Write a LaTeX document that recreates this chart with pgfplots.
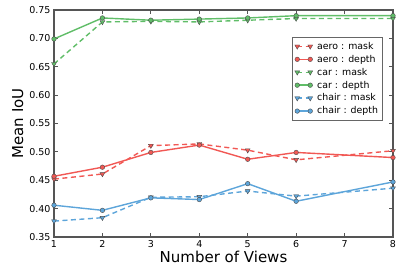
\documentclass[border=0pt]{standalone}
\usepackage{pgfplots}
\pgfplotsset{compat=1.18}
\usepackage{fontspec}
\setmainfont{DejaVu Sans}
\definecolor{cred}{HTML}{F15854}
\definecolor{cgreen}{HTML}{60BD68}
\definecolor{cblue}{HTML}{5DA5DA}
\definecolor{frame}{HTML}{555555}
\begin{document}
\begin{tikzpicture}[x=1pt,y=1pt]
\path[use as bounding box] (-54pt,-32pt) rectangle (353pt,237pt);
\begin{axis}[
  at={(0,0)}, anchor=south west,
  scale only axis, width=339pt, height=227pt,
  xmin=1, xmax=8, ymin=0.35, ymax=0.75,
  xtick={1,2,3,4,5,6,7,8},
  ytick={0.35,0.40,0.45,0.50,0.55,0.60,0.65,0.70,0.75},
  yticklabel style={/pgf/number format/.cd, fixed, fixed zerofill, precision=2},
  /pgf/number format/assume math mode=true,
  tick align=inside, major tick length=4pt,
  tick style={frame, line width=0.8pt},
  axis line style={frame, line width=1.3pt},
  ticklabel style={font=\fontsize{9.5}{11}\selectfont, text=black},
  xlabel={Number of Views}, ylabel={Mean IoU},
  label style={font=\fontsize{15}{17}\selectfont},
  xlabel style={yshift=3pt},
  ylabel style={yshift=-1pt},
  legend style={at={(rel axis cs:0.97,0.88)}, anchor=north east,
    font=\fontsize{9.4}{11}\selectfont, draw=black!60, line width=0.6pt,
    row sep=0.3pt, inner sep=2.5pt, cells={anchor=west},
    /tikz/every odd column/.append style={column sep=2.5pt}},
  legend image code/.code={\draw[#1] plot coordinates {(0pt,0pt) (13pt,0pt)};},
  every axis plot/.append style={line width=1.4pt},
  dashpat/.style={dash pattern=on 5pt off 3.5pt},
  clip=false,
]
\addplot[cred, dashpat, mark=triangle*, mark size=2.8pt, mark options={solid, rotate=180, fill=cred, draw=black!70, line width=0.4pt}]
  coordinates {(1,0.452)(2,0.461)(3,0.511)(4,0.514)(5,0.503)(6,0.486)(8,0.502)};
\addlegendentry{aero : mask}
\addplot[cred, mark=*, mark size=2.3pt, mark options={solid, fill=cred, draw=black!70, line width=0.4pt}]
  coordinates {(1,0.457)(2,0.473)(3,0.499)(4,0.512)(5,0.487)(6,0.499)(8,0.490)};
\addlegendentry{aero : depth}
\addplot[cgreen, dashpat, mark=triangle*, mark size=2.8pt, mark options={solid, rotate=180, fill=cgreen, draw=black!70, line width=0.4pt}]
  coordinates {(1,0.655)(2,0.729)(3,0.730)(4,0.729)(5,0.732)(6,0.735)(8,0.735)};
\addlegendentry{car : mask}
\addplot[cgreen, mark=*, mark size=2.3pt, mark options={solid, fill=cgreen, draw=black!70, line width=0.4pt}]
  coordinates {(1,0.699)(2,0.736)(3,0.732)(4,0.734)(5,0.736)(6,0.740)(8,0.740)};
\addlegendentry{car : depth}
\addplot[cblue, dashpat, mark=triangle*, mark size=2.8pt, mark options={solid, rotate=180, fill=cblue, draw=black!70, line width=0.4pt}]
  coordinates {(1,0.378)(2,0.384)(3,0.420)(4,0.421)(5,0.431)(6,0.422)(8,0.436)};
\addlegendentry{chair : mask}
\addplot[cblue, mark=*, mark size=2.3pt, mark options={solid, fill=cblue, draw=black!70, line width=0.4pt}]
  coordinates {(1,0.406)(2,0.397)(3,0.419)(4,0.416)(5,0.444)(6,0.413)(8,0.447)};
\addlegendentry{chair : depth}
\end{axis}
\end{tikzpicture}
\end{document}
